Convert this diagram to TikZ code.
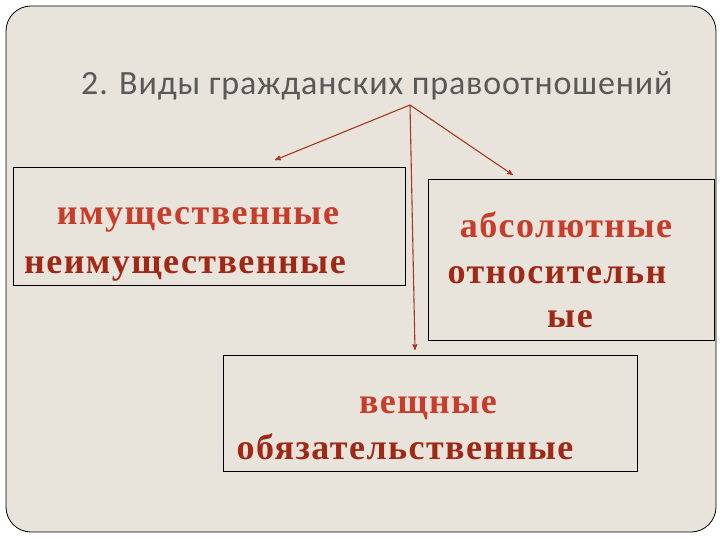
\documentclass[tikz,border=0pt]{standalone}
\usepackage{fontspec}
\setmainfont{Liberation Serif}
\newfontfamily\titlefont[LetterSpace=2.5]{Carlito}
\newfontfamily\kindfont[LetterSpace=4]{Liberation Serif}
\usetikzlibrary{arrows,positioning,calc}
\definecolor{panelfill}{HTML}{E8E4DC}
\definecolor{titlegray}{HTML}{595959}
\definecolor{lightred}{HTML}{C83C2A}
\definecolor{darkred}{HTML}{A02816}
\definecolor{arrowred}{HTML}{A8381F}
\tikzset{
	>=stealth',
	kindbox/.style={
		rectangle,
		draw=black, thick,
		inner sep=0pt,
		anchor=north west},
	kindtext/.style={
		font=\kindfont\fontsize{36}{36}\selectfont\bfseries,
		inner sep=0pt,
		anchor=base},
	line/.style={draw=arrowred, line width=1.1pt, ->},
}

\begin{document}
\begin{tikzpicture}[x=1pt,y=-1pt]
	\useasboundingbox (0,0) rectangle (720,540);
	% panel
	\draw[fill=panelfill, draw=black, thick, rounded corners=25pt] (6,6) rectangle (716,532);
	\node[anchor=base west, inner sep=0pt, text=titlegray,
		font=\titlefont\fontsize{34}{34}\selectfont] (title) at (81,95) {2. Виды гражданских правоотношений};
	% boxes
	\node[kindbox, minimum width=392pt, minimum height=118pt] (imush) at (13,167) {};
	\node[kindbox, minimum width=286pt, minimum height=161pt] (absol) at (428,179) {};
	\node[kindbox, minimum width=414pt, minimum height=116pt] (veshch) at (223,355) {};
	% texts
	\node[kindtext, text=lightred] (imush1) at (198,225) {имущественные};
	\node[kindtext, text=darkred] (imush2) at (185,273) {неимущественные};
	\node[kindtext, text=lightred] (absol1) at (566,237) {абсолютные};
	\node[kindtext, text=darkred] (absol2) at (557,283) {относительн};
	\node[kindtext, text=darkred] (absol3) at (570,327) {ые};
	\node[kindtext, text=lightred] (veshch1) at (428,413) {вещные};
	\node[kindtext, text=darkred] (veshch2) at (405,459) {обязательственные};
	% arrows
	\coordinate (fork) at (410,105);
	\coordinate (imushtip) at (275,160);
	\coordinate (absoltip) at (513,175);
	\coordinate (veshchtip) at (415,350);
	\path[line] (fork) -- (imushtip);
	\path[line] (fork) -- (absoltip);
	\path[line] (fork) -- (veshchtip);
\end{tikzpicture}
\end{document}
